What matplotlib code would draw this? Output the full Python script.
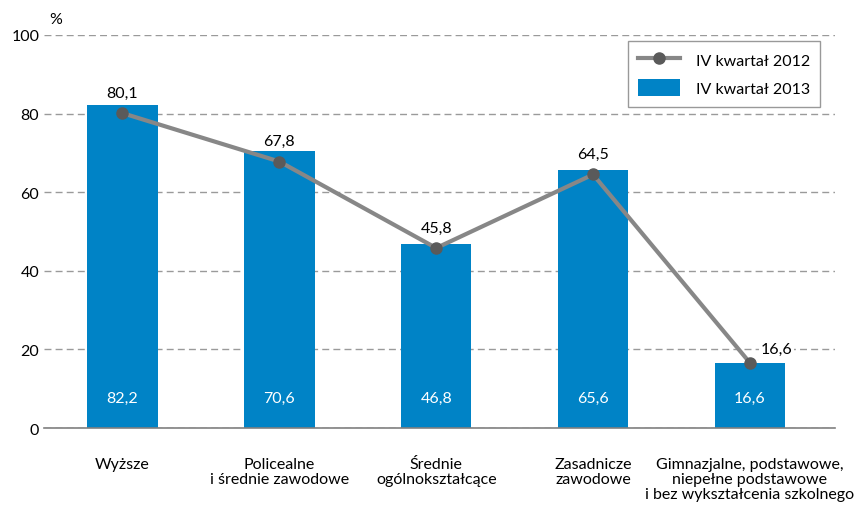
import matplotlib.pyplot as plt
import numpy as np

plt.rcParams['font.family'] = ['Lato', 'DejaVu Sans']

categories = ['Wyższe', 'Policealne\ni średnie zawodowe', 'Średnie\nogólnokształcące',
              'Zasadnicze\nzawodowe', 'Gimnazjalne, podstawowe,\nniepełne podstawowe\ni bez wykształcenia szkolnego']
q4_2013 = [82.2, 70.6, 46.8, 65.6, 16.6]
q4_2012 = [80.1, 67.8, 45.8, 64.5, 16.6]
labels_2013 = ['82,2', '70,6', '46,8', '65,6', '16,6']
labels_2012 = ['80,1', '67,8', '45,8', '64,5', '16,6']

x = np.arange(len(categories))

fig = plt.figure(figsize=(8.64, 5.06), dpi=100)
ax = fig.add_axes([0.051, 0.152, 0.915, 0.777])

ax.set_axisbelow(True)
ax.yaxis.grid(True, ls=(0, (5, 3)), color='#9a9a9a', lw=1)
ax.bar(x, q4_2013, width=0.45, color='#0083c6', label='IV kwartał 2013', zorder=2)
ax.plot(x, q4_2012, color='#878787', lw=3, marker='o', ms=8, mfc='#5a5a5a', mec='#5a5a5a',
        label='IV kwartał 2012', zorder=3)

for xi, lab in zip(x, labels_2013):
    ax.text(xi, 7.7, lab, color='white', ha='center', va='center', fontsize=11.5, zorder=4)
for i, (xi, v, lab) in enumerate(zip(x, q4_2012, labels_2012)):
    if i == len(x) - 1:
        ax.text(xi + 0.17, v + 3.6, lab, ha='center', va='center', fontsize=11.5, zorder=4,
                bbox=dict(facecolor='white', edgecolor='none', pad=1))
    else:
        ax.text(xi, v + 5.2, lab, ha='center', va='center', fontsize=11.5, zorder=4)

ax.set_xlim(-0.5, 4.54)
ax.set_ylim(0, 100)
ax.set_yticks([0, 20, 40, 60, 80, 100])
ax.set_xticks(x)
ax.set_xticklabels(categories, fontsize=11.5, linespacing=1.1)
ax.tick_params(axis='both', length=0, labelsize=11.5)
ax.tick_params(axis='x', pad=21)
for s in ['top', 'right', 'left']:
    ax.spines[s].set_visible(False)
ax.spines['bottom'].set_color('#808080')
ax.spines['bottom'].set_linewidth(1.2)

ax.text(-0.47, 104, '%', fontsize=11.5, ha='left', va='center')

leg = ax.legend(loc='upper right', bbox_to_anchor=(0.982, 0.985), borderaxespad=0,
                fontsize=11.5, frameon=True, fancybox=False, edgecolor='#808080',
                borderpad=0.65, labelspacing=0.65, handlelength=2.6, handleheight=1.3,
                handletextpad=1.0)
leg.get_frame().set_linewidth(1)

plt.savefig('out.png', dpi=100)
plt.close()
